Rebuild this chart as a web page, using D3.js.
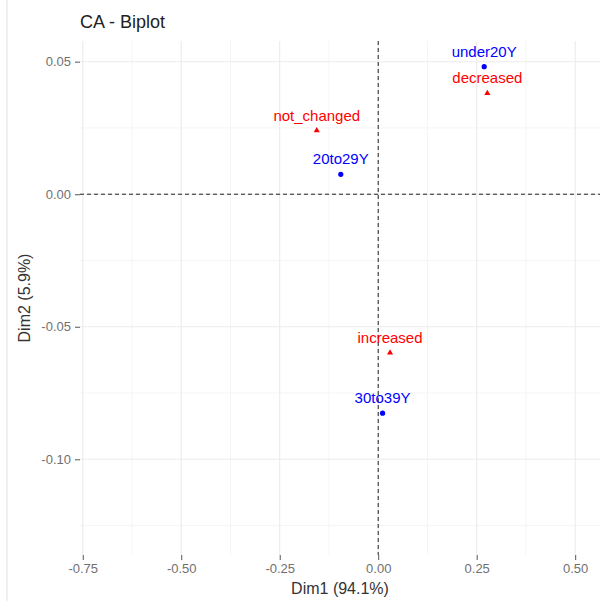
<!DOCTYPE html>
<html>
<head>
<meta charset="utf-8">
<script src="https://cdn.jsdelivr.net/npm/d3@7"></script>
<style>
  html, body { margin: 0; padding: 0; background: #fff; }
  svg { display: block; font-family: "Liberation Sans", Arial, sans-serif; }
</style>
</head>
<body>
<div id="chart"></div>
<script>
// Row points (age groups) and column points (change categories) of the CA
const rowNames = ["under20Y", "20to29Y", "30to39Y"];
const rowDim1 = [0.269, -0.095, 0.011];
const rowDim2 = [0.0481, 0.0075, -0.0826];

const colNames = ["decreased", "not_changed", "increased"];
const colDim1 = [0.277, -0.156, 0.030];
const colDim2 = [0.0381, 0.0240, -0.0598];

const xTicks = [-0.75, -0.50, -0.25, 0.00, 0.25, 0.50];
const yTicks = [0.05, 0.00, -0.05, -0.10];
const xMinor = [-0.625, -0.375, -0.125, 0.125, 0.375];
const yMinor = [0.025, -0.025, -0.075, -0.125];

const title = "CA - Biplot";
const xTitle = "Dim1 (94.1%)";
const yTitle = "Dim2 (5.9%)";

const W = 602, H = 601;
const margin = { top: 41, right: 2, bottom: 46, left: 80 };
const pw = W - margin.left - margin.right;
const ph = H - margin.top - margin.bottom;

const x = d3.scaleLinear().domain([-0.757, 0.563]).range([0, pw]);
const y = d3.scaleLinear().domain([-0.1361, 0.0578]).range([ph, 0]);

const svg = d3.select("#chart").append("svg")
  .attr("width", W).attr("height", H);

// faint frame line on the left edge
svg.append("line")
  .attr("x1", 7).attr("x2", 7).attr("y1", 0).attr("y2", H)
  .attr("stroke", "#ebebeb").attr("stroke-width", 1.5);

const g = svg.append("g").attr("transform", `translate(${margin.left},${margin.top})`);

// minor grid
g.append("g").selectAll("line").data(xMinor).join("line")
  .attr("x1", d => x(d)).attr("x2", d => x(d))
  .attr("y1", 0).attr("y2", ph)
  .attr("stroke", "#f3f3f3").attr("stroke-width", 0.8);
g.append("g").selectAll("line").data(yMinor).join("line")
  .attr("y1", d => y(d)).attr("y2", d => y(d))
  .attr("x1", 0).attr("x2", pw)
  .attr("stroke", "#f3f3f3").attr("stroke-width", 0.8);

// major grid
g.append("g").selectAll("line").data(xTicks).join("line")
  .attr("x1", d => x(d)).attr("x2", d => x(d))
  .attr("y1", 0).attr("y2", ph)
  .attr("stroke", "#ebebeb").attr("stroke-width", 1.1);
g.append("g").selectAll("line").data(yTicks).join("line")
  .attr("y1", d => y(d)).attr("y2", d => y(d))
  .attr("x1", 0).attr("x2", pw)
  .attr("stroke", "#ebebeb").attr("stroke-width", 1.1);

// axes (plain hyphen for negative numbers)
const fmt = d => d3.format(".2f")(d).replace("\u2212", "-");
const xAxis = g.append("g").attr("transform", `translate(0,${ph})`)
  .call(d3.axisBottom(x).tickValues(xTicks).tickFormat(fmt).tickSize(5).tickPadding(4));
const yAxis = g.append("g")
  .call(d3.axisLeft(y).tickValues(yTicks).tickFormat(fmt).tickSize(5).tickPadding(4));
[xAxis, yAxis].forEach(a => {
  a.select(".domain").remove();
  a.selectAll(".tick line").attr("stroke", "#555").attr("stroke-width", 1);
  a.selectAll(".tick text").attr("fill", "#707070").attr("font-size", "13px")
    .attr("font-family", "Liberation Sans, Arial, sans-serif");
});

// reference lines at zero
g.append("line")
  .attr("x1", 0).attr("x2", pw).attr("y1", y(0)).attr("y2", y(0))
  .attr("stroke", "#222").attr("stroke-width", 1).attr("stroke-dasharray", "4,3");
g.append("line")
  .attr("x1", x(0)).attr("x2", x(0)).attr("y1", 0).attr("y2", ph)
  .attr("stroke", "#222").attr("stroke-width", 1).attr("stroke-dasharray", "4,3");

const rows = rowNames.map((n, i) => ({ name: n, d1: rowDim1[i], d2: rowDim2[i] }));
const cols = colNames.map((n, i) => ({ name: n, d1: colDim1[i], d2: colDim2[i] }));

const blue = "#0000ff", red = "#ff0000";

// row points: circles
g.append("g").selectAll("circle").data(rows).join("circle")
  .attr("cx", d => x(d.d1)).attr("cy", d => y(d.d2)).attr("r", 2.6)
  .attr("fill", blue);
// column points: triangles
const tri = d3.symbol().type(d3.symbolTriangle).size(16);
g.append("g").selectAll("path").data(cols).join("path")
  .attr("d", tri)
  .attr("transform", d => `translate(${x(d.d1)},${y(d.d2)})`)
  .attr("fill", red);

// labels
const labelG = g.append("g").attr("font-size", "15px").attr("text-anchor", "middle");
labelG.selectAll("text.row").data(rows).join("text").attr("class", "row")
  .attr("x", d => x(d.d1)).attr("y", d => y(d.d2) - 10)
  .attr("fill", blue).text(d => d.name);
labelG.selectAll("text.col").data(cols).join("text").attr("class", "col")
  .attr("x", d => x(d.d1)).attr("y", d => y(d.d2) - 10)
  .attr("fill", red).text(d => d.name);

// titles
svg.append("text").attr("x", margin.left).attr("y", 28)
  .attr("font-size", "18px").attr("fill", "#222").text(title);
svg.append("text").attr("x", margin.left + pw / 2).attr("y", 594)
  .attr("text-anchor", "middle").attr("font-size", "16px").attr("fill", "#333").text(xTitle);
svg.append("text")
  .attr("transform", `translate(30,${margin.top + ph / 2}) rotate(-90)`)
  .attr("text-anchor", "middle").attr("font-size", "16px").attr("fill", "#333").text(yTitle);
</script>
</body>
</html>
